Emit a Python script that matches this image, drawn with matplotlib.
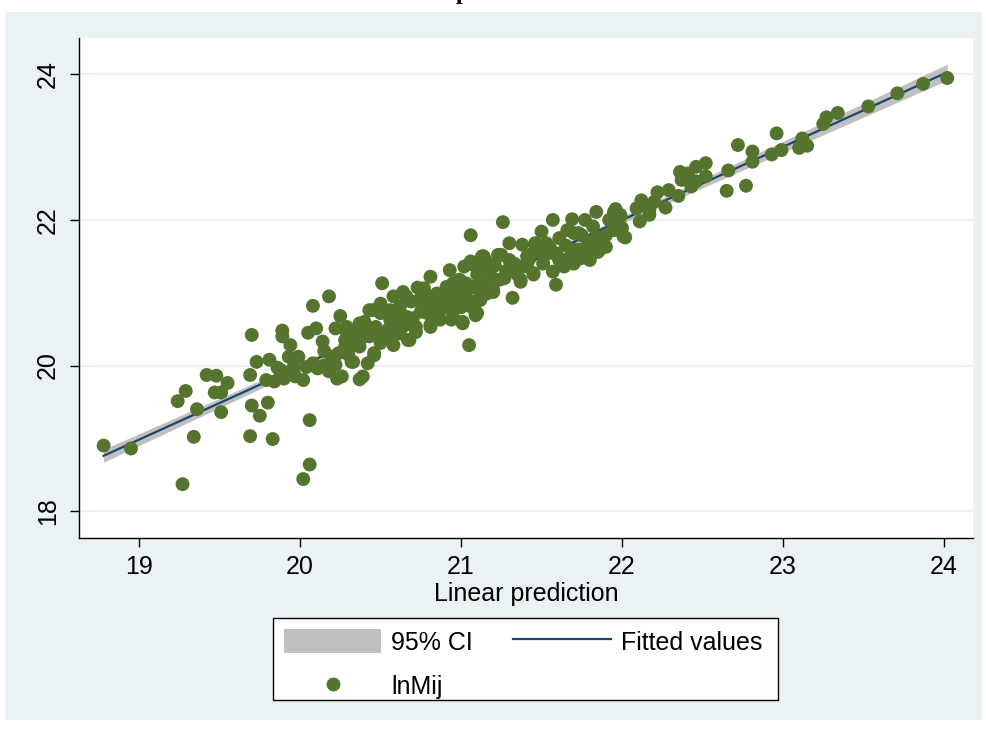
import matplotlib

matplotlib.use("Agg")
import matplotlib.pyplot as plt
import numpy as np
from matplotlib.lines import Line2D
from matplotlib.patches import Patch, Rectangle

plt.rcParams["font.family"] = ["Liberation Sans", "DejaVu Sans"]

# (linear prediction, lnMij) pairs, grouped by x band.
points_low = [
    (18.78, 18.90), (18.95, 18.86), (19.27, 18.37), (19.34, 19.02), (19.24, 19.51),
    (19.29, 19.65), (19.36, 19.40), (19.42, 19.87), (19.48, 19.86), (19.55, 19.76),
    (19.47, 19.63), (19.51, 19.63), (19.51, 19.36), (19.69, 19.03), (19.83, 18.99),
    (19.70, 19.45), (19.75, 19.31), (19.80, 19.49), (19.69, 19.87), (20.06, 19.25),
    (20.06, 18.64), (20.02, 18.44), (19.70, 20.42), (19.89, 20.48), (19.89, 20.40),
    (19.94, 20.28), (19.73, 20.05), (19.81, 20.08), (19.84, 19.78), (19.79, 19.80),
    (19.90, 19.82), (19.97, 19.85), (19.88, 19.94), (19.93, 20.12), (19.99, 20.12),
    (19.96, 19.98), (19.86, 19.97), (19.88, 19.89), (19.96, 19.91),
]
points_mid1 = [
    (20.18, 20.95), (20.08, 20.82), (20.25, 20.68), (20.37, 20.58), (20.05, 20.45),
    (20.10, 20.51), (20.22, 20.51), (20.14, 20.33), (20.29, 20.46), (20.28, 20.26),
    (20.33, 20.35), (20.04, 19.98), (20.08, 20.03), (20.11, 19.96), (20.20, 20.12),
    (20.22, 20.01), (20.32, 20.05), (20.24, 20.17), (20.02, 19.80), (20.23, 19.82),
    (20.37, 19.81), (20.26, 19.85), (20.39, 19.85), (20.10, 19.98), (20.42, 20.03),
    (20.46, 20.14), (20.37, 20.26), (20.50, 20.31), (20.29, 20.53), (20.43, 20.76),
    (20.50, 20.72), (20.45, 20.76), (20.50, 20.85), (20.40, 20.60), (20.31, 20.49),
    (20.28, 20.35), (20.35, 20.28), (20.33, 20.05), (20.46, 20.17), (20.47, 20.53),
    (20.37, 20.35), (20.43, 20.40), (20.51, 21.13), (20.52, 20.40),
    (20.35, 20.45), (20.40, 20.50), (20.45, 20.45), (20.15, 20.00), (20.18, 19.92),
    (20.30, 20.15), (20.15, 20.20),
]
points_mid2 = [
    (20.58, 20.28), (20.68, 20.35), (20.62, 20.44), (20.72, 20.53), (20.81, 20.56),
    (20.87, 20.63), (20.95, 20.67), (21.01, 20.58), (21.10, 20.72), (21.06, 20.81),
    (20.96, 20.81), (20.87, 20.76), (20.79, 20.72), (20.81, 20.85), (20.91, 20.90),
    (21.12, 20.90), (20.56, 20.76), (20.62, 20.81), (20.66, 20.95), (20.74, 20.90),
    (20.77, 21.06), (20.85, 20.99), (20.91, 21.08), (20.99, 21.18), (21.08, 21.08),
    (20.81, 21.22), (20.73, 21.07), (21.05, 20.28), (20.93, 21.31), (20.64, 21.01),
    (20.58, 20.95), (20.67, 20.35), (20.72, 20.46), (20.56, 20.63), (20.66, 20.67),
    (20.75, 20.74), (20.81, 20.53), (20.94, 20.63), (21.09, 20.74), (20.84, 20.83),
    (20.89, 20.95), (20.97, 20.95), (21.04, 21.04), (20.95, 21.13), (20.79, 20.95),
    (20.69, 20.88), (21.07, 20.88), (21.06, 21.79), (21.02, 21.36), (21.06, 21.43),
    (21.03, 21.13), (21.03, 20.88), (21.01, 20.60), (20.58, 20.55), (20.63, 20.60),
    (20.55, 20.50), (20.60, 20.70), (20.70, 20.65), (20.78, 20.80), (20.85, 20.70),
    (20.90, 20.80), (21.00, 20.80), (20.98, 21.05), (20.55, 20.40), (20.65, 20.55),
    (20.90, 21.00),
]
points_mid3 = [
    (21.16, 21.13), (21.20, 21.04), (21.24, 21.18), (21.37, 21.18), (21.45, 21.25),
    (21.57, 21.29), (21.64, 21.36), (21.70, 21.40), (21.80, 21.45), (21.82, 21.59),
    (21.74, 21.59), (21.68, 21.50), (21.61, 21.45), (21.51, 21.40), (21.41, 21.36),
    (21.33, 21.40), (21.21, 21.38), (21.12, 21.36), (21.14, 21.50), (21.24, 21.52),
    (21.46, 21.68), (21.53, 21.68), (21.70, 21.82), (21.13, 21.50), (21.23, 21.52),
    (21.08, 21.38), (21.12, 21.13), (21.16, 20.99), (21.26, 21.97), (21.57, 22.00),
    (21.69, 22.01), (21.77, 22.00), (21.50, 21.84), (21.59, 21.11), (21.32, 20.93),
    (21.66, 21.86), (21.73, 21.82), (21.61, 21.75), (21.79, 21.47), (21.70, 21.43),
    (21.63, 21.38), (21.45, 21.27), (21.37, 21.15), (21.30, 21.68), (21.38, 21.66),
    (21.25, 21.52), (21.47, 21.66), (21.55, 21.63), (21.41, 21.50), (21.54, 21.54),
    (21.71, 21.59), (21.20, 21.36), (21.30, 21.31), (21.37, 21.36), (21.20, 21.01),
    (21.12, 20.95), (21.09, 20.69), (21.27, 21.20), (21.75, 21.79), (21.79, 21.70),
    (21.79, 21.50), (21.74, 21.47),
    (21.10, 21.25), (21.18, 21.25), (21.28, 21.30), (21.35, 21.25), (21.42, 21.45),
    (21.50, 21.55), (21.58, 21.55), (21.65, 21.65), (21.60, 21.50), (21.30, 21.45),
    (21.45, 21.55), (21.15, 21.45),
]
points_high1 = [
    (21.84, 22.11), (21.95, 22.11), (21.82, 21.91), (21.92, 22.00), (21.97, 21.89),
    (21.84, 21.75), (21.90, 21.63), (21.86, 21.68), (22.01, 21.77), (21.95, 21.86),
    (21.99, 22.05), (21.96, 22.15), (21.99, 22.07), (22.00, 21.89), (22.02, 21.76),
    (21.90, 21.79), (21.86, 21.70), (21.85, 21.56), (22.12, 22.27), (22.17, 22.14),
    (22.09, 22.16), (22.11, 21.98), (22.17, 22.07), (22.20, 22.25), (22.27, 22.17),
    (22.22, 22.38), (22.29, 22.41), (22.35, 22.33), (22.37, 22.55), (22.43, 22.46),
    (22.46, 22.53), (22.41, 22.64), (22.36, 22.66), (22.46, 22.73), (22.52, 22.78),
    (22.52, 22.60), (21.88, 21.72), (21.86, 21.59),
]
points_high2 = [
    (22.66, 22.68), (22.65, 22.40), (22.77, 22.47), (22.72, 23.03), (22.81, 22.94),
    (22.81, 22.80), (22.96, 23.19), (22.93, 22.90), (22.99, 22.96), (23.10, 22.99),
    (23.12, 23.12), (23.15, 23.02), (23.25, 23.32), (23.27, 23.41), (23.34, 23.47),
    (23.53, 23.56), (23.71, 23.74), (23.87, 23.87), (24.02, 23.95),
]

x_ticks = [19, 20, 21, 22, 23, 24]
y_ticks = [18, 20, 22, 24]
legend_labels = ["95% CI", "lnMij", "Fitted values"]
x_title = "Linear prediction"
T_CRIT = 1.969  # two-sided 95% t for ~280 df

BG = "#EAF2F3"
GREEN = "#55752F"
NAVY = "#1A476F"
CI_GRAY = "#C0C0C0"
W, H = 987, 729


def main() -> None:
    pts = np.array(points_low + points_mid1 + points_mid2 + points_mid3 + points_high1 + points_high2)
    x, y = pts[:, 0], pts[:, 1]

    # OLS fit with 95% CI of the mean prediction (what lfitci draws).
    slope, intercept = np.polyfit(x, y, 1)
    n = len(x)
    resid = y - (intercept + slope * x)
    s = np.sqrt(np.sum(resid**2) / (n - 2))
    sxx = np.sum((x - x.mean()) ** 2)
    xf = np.linspace(x.min(), x.max(), 200)
    yf = intercept + slope * xf
    half = T_CRIT * s * np.sqrt(1.0 / n + (xf - x.mean()) ** 2 / sxx)

    fig = plt.figure(figsize=(W / 100, H / 100), dpi=100)
    fig.patch.set_facecolor("white")
    fig.patches.append(
        Rectangle((5 / W, 9 / H), 977 / W, 708 / H, transform=fig.transFigure,
                  facecolor=BG, edgecolor="none", zorder=-10)
    )
    # Legend box (Stata puts more room above the first row than below the last).
    fig.patches.append(
        Rectangle((273 / W, 1 - 700 / H), 505 / W, 82 / H, transform=fig.transFigure,
                  facecolor="white", edgecolor="black", lw=1.0, zorder=-5)
    )
    # Only the descender of the (cropped) title shows at the very top.
    fig.text(462 / W, 1 + 1.5 / H, "p", ha="center", va="baseline", fontsize=17,
             fontweight="bold", family=["Liberation Serif", "DejaVu Serif"])

    ax = fig.add_axes([79 / W, (H - 538) / H, (973 - 79) / W, (538 - 38) / H])
    ax.set_facecolor("white")

    ax.fill_between(xf, yf - half, yf + half, color=CI_GRAY, lw=0, zorder=1)
    ax.plot(xf, yf, color=NAVY, lw=1.6, zorder=2)
    ax.scatter(x, y, s=100, color=GREEN, edgecolors="none", zorder=3)

    ax.set_xlim(18.627, 24.18)
    ax.set_ylim(17.63, 24.5)
    ax.set_xticks(x_ticks)
    ax.set_yticks(y_ticks)
    ax.set_yticklabels([str(t) for t in y_ticks], rotation=90, va="center")
    for t in y_ticks:
        ax.axhline(t, color=BG, lw=1.6, zorder=0)

    for side in ("top", "right"):
        ax.spines[side].set_visible(False)
    for side in ("left", "bottom"):
        ax.spines[side].set_color("black")
        ax.spines[side].set_linewidth(1.0)
    ax.tick_params(axis="both", direction="out", length=6.5, width=1.0, labelsize=18, color="black")
    ax.tick_params(axis="y", pad=7)
    ax.tick_params(axis="x", pad=6)
    ax.set_xlabel(x_title, fontsize=18, labelpad=2)

    handles = [
        Patch(facecolor=CI_GRAY, edgecolor="none"),
        Line2D([], [], ls="none", marker="o", ms=10, color=GREEN, markeredgewidth=0),
        Line2D([], [], color=NAVY, lw=1.6),
    ]
    ax.legend(
        handles, legend_labels, ncol=2, loc="center",
        bbox_to_anchor=(523 / W, 1 - 664 / H), bbox_transform=fig.transFigure,
        frameon=False, fontsize=18,
        handlelength=3.9, handleheight=1.1, handletextpad=0.4, columnspacing=1.6,
        labelspacing=0.75, borderpad=0.0, borderaxespad=0,
    )

    fig.savefig("out.png", dpi=100, facecolor=fig.get_facecolor())


if __name__ == "__main__":
    main()
